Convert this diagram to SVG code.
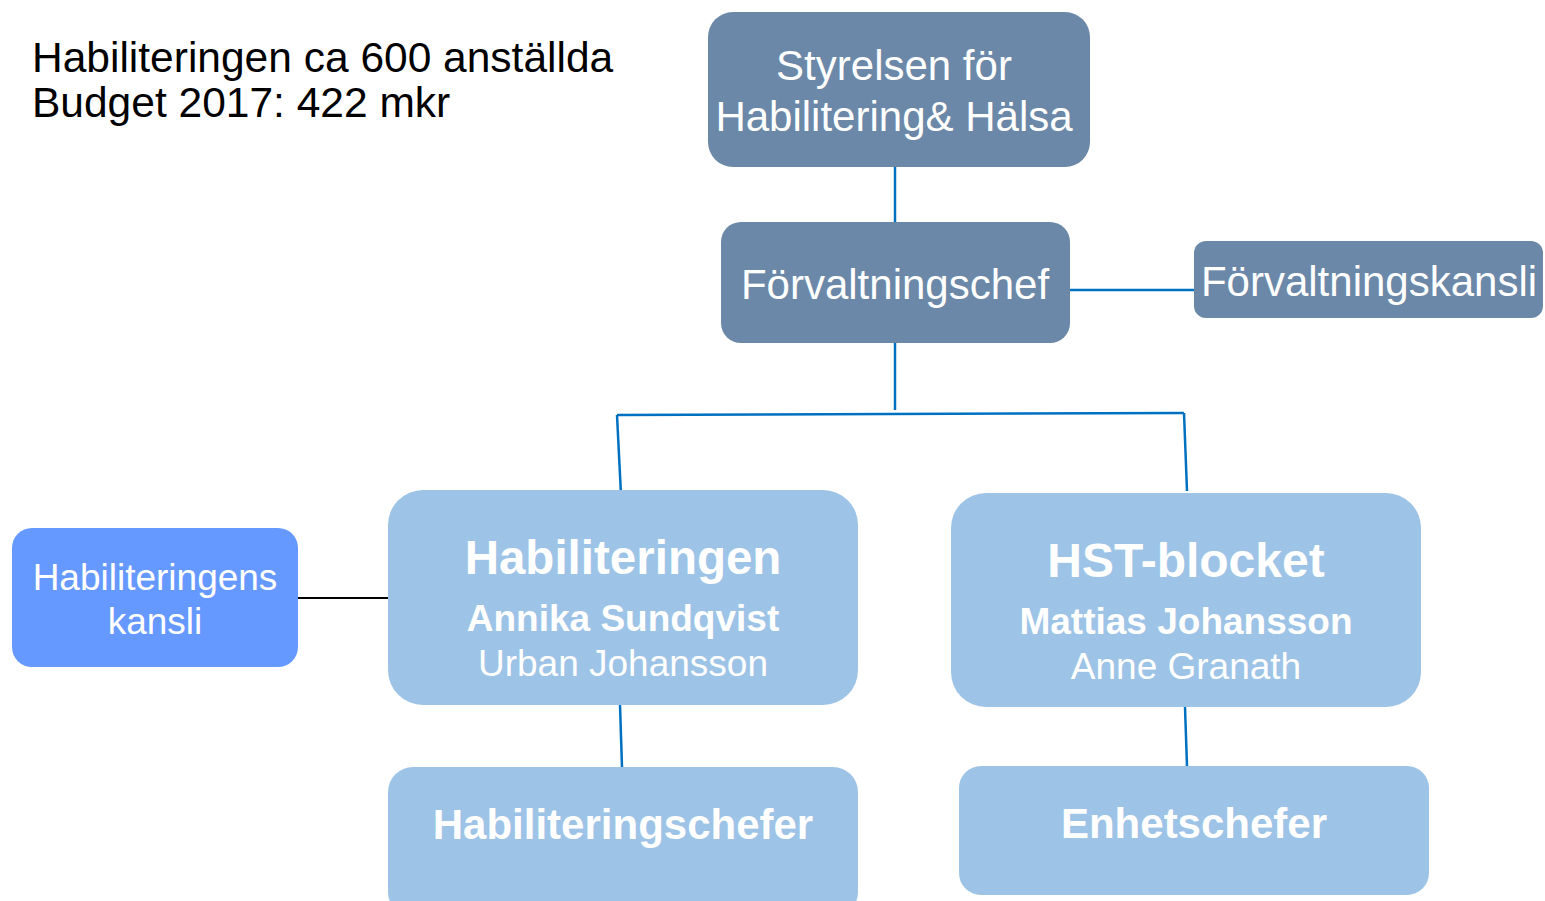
<svg xmlns="http://www.w3.org/2000/svg" width="1545" height="901" viewBox="0 0 1545 901">
<style>
text{font-family:"Liberation Sans",Arial,sans-serif;fill:#fff;text-anchor:middle}
.dark{fill:#6B88A8}
.light{fill:#9DC3E6}
.bright{fill:#6699FF}
.conn{stroke:#0070C0;stroke-width:2.5;fill:none}
.b{font-weight:bold}
</style>
<rect width="1545" height="901" fill="#fff"/>
<g id="info">
<text x="32" y="72" font-size="42.5" style="fill:#000;text-anchor:start">Habiliteringen ca 600 anställda</text>
<text x="32" y="117" font-size="42.5" style="fill:#000;text-anchor:start">Budget 2017: 422 mkr</text>
</g>
<g id="connectors">
<line class="conn" x1="895" y1="167" x2="895" y2="222"/>
<line class="conn" x1="1070" y1="290" x2="1194" y2="290"/>
<line class="conn" x1="895" y1="343" x2="895" y2="410"/>
<line class="conn" x1="617" y1="415" x2="1184" y2="413"/>
<line class="conn" x1="617" y1="415" x2="621" y2="495"/>
<line class="conn" x1="1184" y1="413" x2="1187" y2="491"/>
<line class="conn" x1="620" y1="705" x2="622" y2="767"/>
<line class="conn" x1="1185" y1="707" x2="1187" y2="766"/>
<line x1="298" y1="598" x2="388" y2="598" stroke="#000" stroke-width="2"/>
</g>
<g id="styrelsen">
<rect class="dark" x="708" y="12" width="382" height="155" rx="25"/>
<text x="894" y="80" font-size="42">Styrelsen för</text>
<text x="894" y="131" font-size="42">Habilitering&amp; Hälsa</text>
</g>
<g id="forvaltningschef">
<rect class="dark" x="721" y="222" width="349" height="121" rx="20"/>
<text x="895" y="299" font-size="42">Förvaltningschef</text>
</g>
<g id="forvaltningskansli">
<rect class="dark" x="1194" y="241" width="349" height="77" rx="12"/>
<text x="1369" y="296" font-size="42">Förvaltningskansli</text>
</g>
<g id="habiliteringens-kansli">
<rect class="bright" x="12" y="528" width="286" height="139" rx="20"/>
<text x="155" y="590" font-size="37">Habiliteringens</text>
<text x="155" y="634" font-size="37">kansli</text>
</g>
<g id="habiliteringen">
<rect class="light" x="388" y="490" width="470" height="215" rx="35"/>
<text class="b" x="623" y="574" font-size="47.5">Habiliteringen</text>
<text class="b" x="623" y="631" font-size="37">Annika Sundqvist</text>
<text x="623" y="676" font-size="37">Urban Johansson</text>
</g>
<g id="hst-blocket">
<rect class="light" x="951" y="493" width="470" height="214" rx="35"/>
<text class="b" x="1186" y="577" font-size="48">HST-blocket</text>
<text class="b" x="1186" y="634" font-size="37">Mattias Johansson</text>
<text x="1186" y="679" font-size="37">Anne Granath</text>
</g>
<g id="habiliteringschefer">
<rect class="light" x="388" y="767" width="470" height="150" rx="25"/>
<text class="b" x="623" y="839" font-size="42">Habiliteringschefer</text>
</g>
<g id="enhetschefer">
<rect class="light" x="959" y="766" width="470" height="129" rx="22"/>
<text class="b" x="1194" y="838" font-size="42">Enhetschefer</text>
</g>
</svg>
